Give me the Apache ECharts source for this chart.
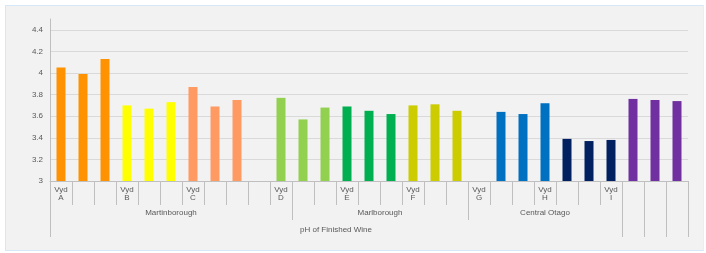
<!DOCTYPE html>
<html>
<head>
<meta charset="utf-8">
<script src="https://cdn.jsdelivr.net/npm/echarts@6/dist/echarts.min.js"></script>
<style>
  html, body { margin: 0; padding: 0; background: #ffffff; }
  #frame { position: absolute; left: 5px; top: 5px; width: 697px; height: 244px;
           background: #f2f2f2; border: 1px solid #d6e7f8; border-right-color: #e6eef6; }
  #chart { position: absolute; left: 0; top: 0; width: 706px; height: 253px; }
</style>
</head>
<body>
<div id="frame"></div>
<div id="chart"></div>
<script>
// ---- data ----
const slotLabels = ['Vyd\nA','','','Vyd\nB','','','Vyd\nC','','','',
                    'Vyd\nD','','','Vyd\nE','','','Vyd\nF','','',
                    'Vyd\nG','','','Vyd\nH','','','Vyd\nI','','',''];
const phValues = [4.05, 3.99, 4.13,  3.70, 3.67, 3.73,  3.87, 3.69, 3.75,  null,
                  3.77, 3.57, 3.68,  3.69, 3.65, 3.62,  3.70, 3.71, 3.65,  null,
                  3.64, 3.62, 3.72,  3.39, 3.37, 3.38,  3.76, 3.75, 3.74];
const regionNames = ['Martinborough', 'Marlborough', 'Central Otago', '', '', ''];
const regionSizes = [11, 8, 7, 1, 1, 1];
const topNames = ['pH of Finished Wine', '', '', ''];
const topSizes = [26, 1, 1, 1];
const yTicks = [3, 3.2, 3.4, 3.6, 3.8, 4, 4.2, 4.4];

// ---- styles ----
const groupColors = ['#FF9200', '#FFFF00', '#FF9A62', '#92D050', '#00B050',
                     '#CCCC00', '#0070C0', '#002060', '#7030A0'];
const axisGray = '#bfbfbf';
const textGray = '#595959';
const fontFam = 'Liberation Sans, Arial, sans-serif';

// build bar data
let barCount = 0;
const barData = phValues.map(v => {
  if (v === null) return '-';
  const c = groupColors[Math.floor(barCount / 3)];
  barCount++;
  return { value: v, itemStyle: { color: c } };
});

const nSlots = slotLabels.length;
const slotIds = slotLabels.map((_, i) => 's' + i);
// half-slot positions (boundaryGap false) for grouped levels
const halfIds = [];
for (let k = 0; k <= nSlots * 2; k++) halfIds.push('h' + k);

function groupInfo(names, sizes) {
  const labels = {}; const bounds = new Set([0]);
  let start = 0;
  sizes.forEach((s, i) => {
    labels[start * 2 + s] = names[i];
    start += s;
    bounds.add(start * 2);
  });
  return { labels, bounds };
}
const lvl2 = groupInfo(regionNames, regionSizes);
const lvl3 = groupInfo(topNames, topSizes);

function groupAxis(info, tickLen, margin) {
  return {
    type: 'category', position: 'bottom', offset: 0, boundaryGap: false,
    data: halfIds,
    axisLine: { show: false, onZero: false },
    axisTick: { show: true, length: tickLen, interval: (idx) => info.bounds.has(idx),
                lineStyle: { color: axisGray, width: 1 } },
    axisLabel: { show: true, interval: 0, margin: margin, fontSize: 8,
                 color: textGray, fontFamily: fontFam,
                 formatter: (v, idx) => info.labels[idx] || '' },
    splitLine: { show: false }
  };
}

const chart = echarts.init(document.getElementById('chart'), null, { renderer: 'canvas' });
chart.setOption({
  backgroundColor: 'transparent',
  animation: false,
  grid: { left: 50, right: 18, top: 19, bottom: 72, containLabel: false },
  xAxis: [
    {
      type: 'category', position: 'bottom', offset: 0, data: slotIds, boundaryGap: true,
      axisLine: { show: true, onZero: false, lineStyle: { color: axisGray, width: 1 } },
      axisTick: { show: true, interval: 0, length: 24, lineStyle: { color: axisGray, width: 1 } },
      axisLabel: { interval: 0, margin: 5, fontSize: 8, lineHeight: 8, color: textGray,
                   fontFamily: fontFam, formatter: (v, idx) => slotLabels[idx] },
      splitLine: { show: false }
    },
    groupAxis(lvl2, 39, 28),
    groupAxis(lvl3, 56, 45)
  ],
  yAxis: {
    type: 'value', min: yTicks[0], max: 4.5, interval: 0.2,
    axisLine: { show: true, lineStyle: { color: axisGray, width: 1 } },
    axisTick: { show: false },
    axisLabel: { margin: 7, fontSize: 8, color: textGray, fontFamily: fontFam,
                 formatter: (v) => {
                   const hit = yTicks.find(t => Math.abs(t - v) < 1e-6);
                   return hit === undefined ? '' : String(hit);
                 } },
    splitLine: { show: true, showMinLine: false, showMaxLine: false,
                 lineStyle: { color: '#d9d9d9', width: 1 } }
  },
  series: [{
    type: 'bar', xAxisIndex: 0, yAxisIndex: 0, data: barData,
    barWidth: 9
  }]
});
</script>
</body>
</html>
